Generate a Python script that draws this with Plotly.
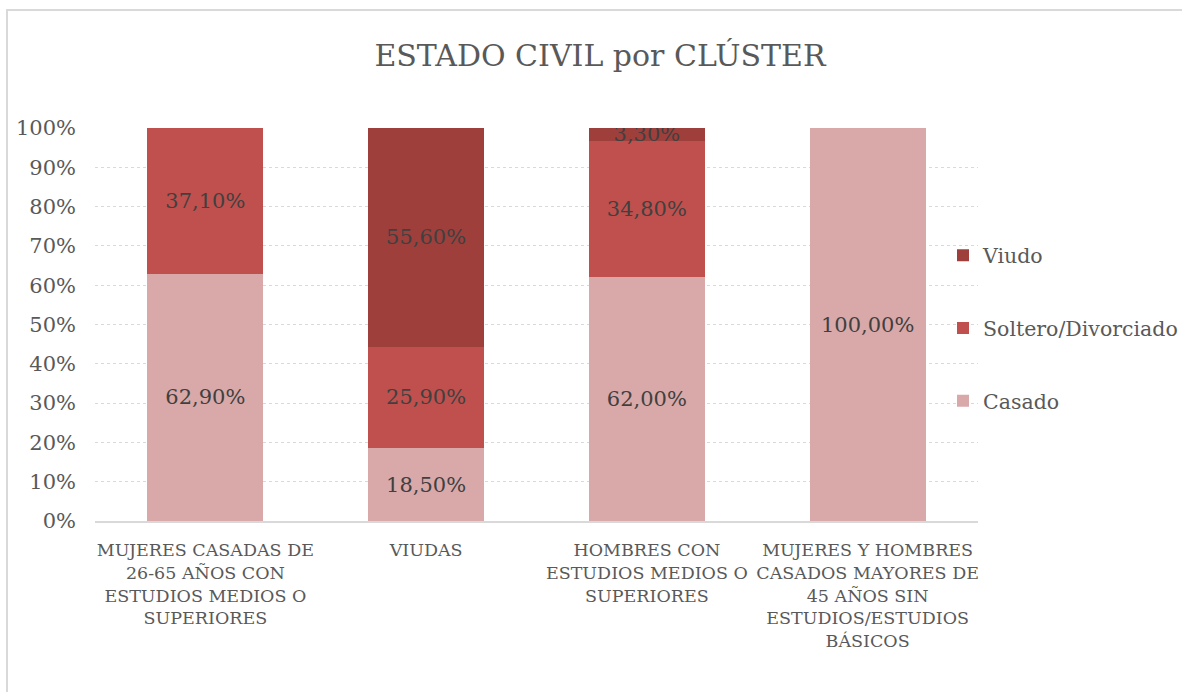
import plotly.graph_objects as go

categories = [
    "MUJERES CASADAS DE<br>26-65 AÑOS CON<br>ESTUDIOS MEDIOS O<br>SUPERIORES",
    "VIUDAS",
    "HOMBRES CON<br>ESTUDIOS MEDIOS O<br>SUPERIORES",
    "MUJERES Y HOMBRES<br>CASADOS MAYORES DE<br>45 AÑOS SIN<br>ESTUDIOS/ESTUDIOS<br>BÁSICOS",
]
casado = [62.90, 18.50, 62.00, 100.00]
soltero = [37.10, 25.90, 34.80, 0.0]
viudo = [0.0, 55.60, 3.30, 0.0]

series = [
    ("Casado", casado, "#D9A9A9", 3),
    ("Soltero/Divorciado", soltero, "#C0504D", 2),
    ("Viudo", viudo, "#9E3F3C", 1),
]

FONT = "DejaVu Serif"
W, H = 1182, 692
L, R, T, B = 95, 204, 128, 171

def fmt(v):
    return ("%.2f" % v).replace(".", ",") + "%" if v > 0 else ""

fig = go.Figure()
for name, vals, col, rank in series:
    fig.add_trace(go.Bar(
        name=name, x=categories, y=[v / 100 for v in vals],
        marker=dict(color=col, line=dict(width=0)),
        text=[fmt(v) for v in vals], textposition="inside",
        insidetextanchor="middle", constraintext="none",
        textfont=dict(family=FONT, size=21, color="#404040"),
        legendgroup=name, legendrank=rank, hoverinfo="skip",
    ))

pw = W - L - R
ph = H - T - B
fig.update_layout(
    width=W, height=H, barmode="stack", bargap=0.475,
    margin=dict(l=L, r=R, t=T, b=B, autoexpand=False),
    paper_bgcolor="white", plot_bgcolor="white",
    font=dict(family=FONT, color="#595959"),
    title=dict(text="ESTADO CIVIL por CLÚSTER", x=600 / W, xref="container", xanchor="center",
               y=1 - 55 / H, yref="container", yanchor="middle",
               font=dict(family=FONT, size=30, color="#595959")),
    legend=dict(xref="paper", yref="paper", x=(943 - L) / pw, xanchor="left",
                y=(H - B - 328) / ph, yanchor="middle", traceorder="grouped",
                tracegroupgap=43, bgcolor="rgba(0,0,0,0)",
                font=dict(family=FONT, size=20.5, color="#595959"),
                itemclick=False),
    uniformtext=dict(minsize=21, mode="show"),
    showlegend=True,
)
fig.update_yaxes(range=[0, 1], dtick=0.1, tickformat=".0%", showgrid=True,
                 gridcolor="#D9D9D9", griddash="dot", gridwidth=1,
                 zeroline=False, showline=False, ticklabelstandoff=18,
                 tickfont=dict(family=FONT, size=21, color="#595959"))
fig.update_xaxes(showline=True, linecolor="#D9D9D9", linewidth=2, showgrid=False,
                 ticklabelstandoff=12,
                 tickfont=dict(family=FONT, size=17.5, color="#595959"))
fig.add_shape(type="rect", xref="paper", yref="paper",
              x0=(7 - L) / pw, x1=(W + 20 - L) / pw,
              y0=-(B + 20) / ph, y1=(T - 10) / ph + 1,
              line=dict(color="#D9D9D9", width=2), layer="below")
fig.write_html("out.html", config={"displayModeBar": False},
               post_script="document.body.style.margin='0px';")
